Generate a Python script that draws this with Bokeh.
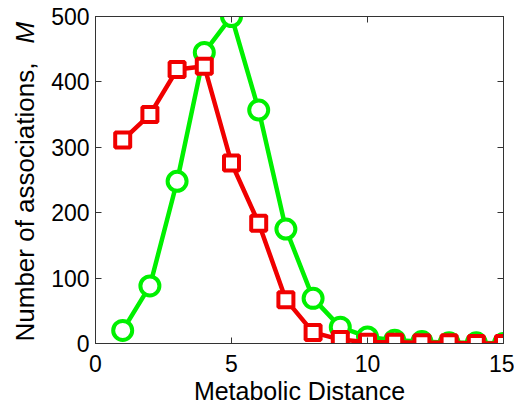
import math
from bokeh.plotting import figure
from bokeh.layouts import row
from bokeh.models import LinearAxis, Label, Range1d, FixedTicker
from bokeh.embed import file_html
from bokeh.resources import INLINE

distance = [1, 2, 3, 4, 5, 6, 7, 8, 9, 10, 11, 12, 13, 14, 15]
green_vals = [20, 88, 248, 445, 500, 357, 175, 69, 25, 10, 5, 3, 1, 1, 0]
red_vals = [311, 350, 419, 424, 276, 184, 67, 17, 6, 2, 2, 1, 1, 0, 0]
x_ticks = [0, 5, 10, 15]
y_ticks = [0, 100, 200, 300, 400, 500]
y_label_main = "Number of associations,"
y_label_symbol = "M"
x_label = "Metabolic Distance"

FONT = "Liberation Sans"
GREEN = "#00f000"
RED = "#f00000"
AXIS = "#333333"
LABEL_W = 45
H = 407
FRAME_TOP = 16
FRAME_BOTTOM_BORDER = 63

# narrow figure holding the y-axis title (mixed upright / italic text);
# its frame is aligned with the main frame by the row layout, so its y range
# is expressed in canvas pixels measured from the bottom.
lab = figure(width=LABEL_W, height=H, output_backend="svg", toolbar_location=None,
             x_range=Range1d(0, LABEL_W),
             y_range=Range1d(FRAME_BOTTOM_BORDER, H - FRAME_TOP),
             min_border=0, min_border_top=FRAME_TOP, min_border_bottom=FRAME_BOTTOM_BORDER,
             x_axis_type=None, y_axis_type=None)
lab.grid.visible = False
lab.outline_line_color = None
lab.add_layout(Label(x=24, y=65, text=y_label_main, angle=math.pi / 2,
                     text_align="left", text_baseline="middle", text_font=FONT,
                     text_font_size="26px", text_color="black"))
lab.add_layout(Label(x=24, y=364, text=y_label_symbol, angle=math.pi / 2,
                     text_align="left", text_baseline="middle", text_font=FONT,
                     text_font_size="26px", text_font_style="italic", text_color="black"))

p = figure(width=514 - LABEL_W, height=H, output_backend="svg", toolbar_location=None,
           x_range=Range1d(0, 15), y_range=Range1d(0, 500),
           min_border_left=95 - LABEL_W, min_border_right=11, min_border_top=FRAME_TOP,
           min_border_bottom=FRAME_BOTTOM_BORDER)
p.grid.visible = False
p.outline_line_color = AXIS
p.outline_line_width = 1

for ax, ticks in ((p.xaxis[0], x_ticks), (p.yaxis[0], y_ticks)):
    ax.ticker = FixedTicker(ticks=ticks)
    ax.major_tick_in = 6
    ax.major_tick_out = 0
    ax.minor_tick_in = 0
    ax.minor_tick_out = 0
    ax.axis_line_color = AXIS
    ax.major_tick_line_color = AXIS
    ax.major_label_text_font = FONT
    ax.major_label_text_font_size = "23px"
    ax.major_label_text_color = "black"
p.xaxis.major_label_standoff = 11
p.yaxis.major_label_standoff = 6

p.xaxis.axis_label = x_label
p.xaxis.axis_label_text_font = FONT
p.xaxis.axis_label_text_font_size = "25px"
p.xaxis.axis_label_text_font_style = "normal"
p.xaxis.axis_label_text_color = "black"
p.xaxis.axis_label_standoff = 2

for loc, ticks in (("right", y_ticks), ("above", x_ticks)):
    ax = LinearAxis(ticker=FixedTicker(ticks=ticks), major_tick_in=6, major_tick_out=0,
                    minor_tick_in=0, minor_tick_out=0,
                    major_label_overrides={t: "" for t in ticks},
                    major_label_standoff=0,
                    axis_line_color=AXIS, major_tick_line_color=AXIS)
    p.add_layout(ax, loc)

p.line(distance, green_vals, line_color=GREEN, line_width=4.5)
p.scatter(distance, green_vals, marker="circle", size=19, line_color=GREEN,
          line_width=4, fill_color="white")
p.line(distance, red_vals, line_color=RED, line_width=4.5)
p.scatter(distance, red_vals, marker="square", size=15, line_color=RED,
          line_width=4, fill_color="white")

open("out.html", "w").write(file_html(row(lab, p), INLINE))
